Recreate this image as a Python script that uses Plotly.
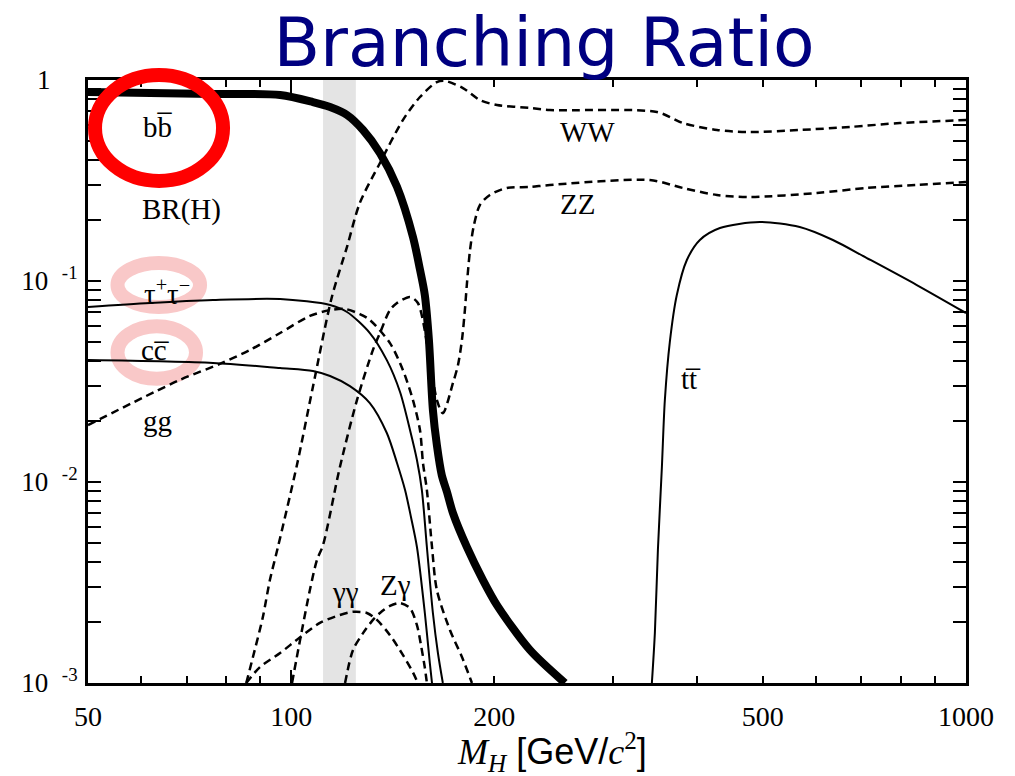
import numpy as np
import plotly.graph_objects as go

# Higgs boson branching ratios vs. mass M_H (GeV/c^2)
bb_mass = [50, 61.8, 76.6, 96.3, 107.7, 114.2, 121.0, 127.8, 135.4, 143.5, 151.5, 155.2,
           157.8, 160.0, 162.2, 164.4, 167.2, 170.2, 173.7, 182.1, 192.4, 201.8, 225.8, 254.5]
bb_br = [0.872, 0.862, 0.852, 0.842, 0.777, 0.734, 0.670, 0.564, 0.433, 0.294, 0.166, 0.114,
         0.085, 0.051, 0.0228, 0.0153, 0.0108, 0.0089, 0.0070, 0.00475, 0.00325, 0.00244, 0.00146, 0.001]

tau_mass = [50, 61.8, 76.6, 96.3, 114.2, 121.0, 130.8, 138.6, 145.0, 150.0, 153.6, 156.2,
            158.9, 162.2, 165.0, 167.8]
tau_br = [0.0742, 0.0777, 0.0804, 0.0813, 0.076, 0.0701, 0.0551, 0.0404, 0.02804, 0.01815,
          0.01287, 0.00912, 0.00475, 0.00223, 0.00141, 0.001]

cc_mass = [50, 76.6, 96.3, 107.7, 114.2, 122.2, 130.8, 138.6, 143.5, 147.5, 150.5, 153.6,
           157.8, 160.5, 161.7]
cc_br = [0.0404, 0.0391, 0.0369, 0.0357, 0.0337, 0.030, 0.0247, 0.01753, 0.01243, 0.00912,
         0.0067, 0.00475, 0.00223, 0.00126, 0.001]

gg_mass = [50, 68.4, 78.4, 86.9, 96.3, 106.6, 114.2, 120.2, 126.4, 130.8, 140.1, 146.4,
           151.5, 155.2, 156.8, 158.9, 161.7, 164.4, 171.9, 179.1, 185.3]
gg_br = [0.0192, 0.0322, 0.0387, 0.0454, 0.0551, 0.067, 0.0717, 0.0726, 0.0685, 0.064,
         0.0491, 0.0361, 0.0256, 0.01815, 0.01243, 0.00912, 0.00475, 0.0029, 0.001835,
         0.001347, 0.001]

ww_mass = [85.8, 87.8, 90.8, 93.0, 95.6, 102.0, 107.7, 114.9, 121.0, 126.4, 135.4, 146.4,
           155.2, 164.4, 169.0, 179.7, 190.4, 201.8, 225.8, 241.7, 348.3, 380.5, 427.5,
           478.3, 567.0, 673.0, 798.0, 1000]
ww_br = [0.001, 0.00135, 0.00213, 0.00325, 0.00475, 0.01215, 0.0297, 0.0833, 0.148, 0.2445,
         0.3865, 0.632, 0.823, 0.977, 0.99, 0.912, 0.795, 0.751, 0.726, 0.709, 0.693, 0.611,
         0.564, 0.551, 0.564, 0.584, 0.611, 0.632]

zz_mass = [100.3, 103.1, 106.6, 109.2, 111.5, 118.1, 125.2, 132.2, 135.4, 140.1, 143.5,
           150.0, 154.1, 160.5, 164.4, 167.8, 173.7, 176.7, 179.1, 180.9, 182.1, 184.1,
           186.6, 190.4, 197.0, 208.8, 225.8, 241.7, 340.0, 380.5, 427.5, 478.3, 601.2,
           713.0, 845.5, 1000]
zz_br = [0.001, 0.00164, 0.0029, 0.00409, 0.00486, 0.01188, 0.0256, 0.0454, 0.0551, 0.0717,
         0.0777, 0.0833, 0.0777, 0.0404, 0.0256, 0.022, 0.0311, 0.0382, 0.0509, 0.0717,
         0.0955, 0.1426, 0.19, 0.2388, 0.2679, 0.2903, 0.2936, 0.3003, 0.318, 0.2903,
         0.2679, 0.2618, 0.274, 0.2903, 0.3003, 0.3109]

gamgam_mass = [85.8, 89.9, 96.3, 103.1, 110.3, 118.1, 123.5, 129.5, 134.0, 140.1, 146.4,
               151.5, 154.1]
gamgam_br = [0.001, 0.0012, 0.00141, 0.00169, 0.00199, 0.00218, 0.00226, 0.00223, 0.00206,
             0.00173, 0.00138, 0.00113, 0.001]

zgam_mass = [120.2, 123.5, 127.8, 132.2, 135.4, 140.1, 145.0, 150.0, 153.6, 155.7, 157.8, 158.9]
zgam_br = [0.001, 0.00146, 0.00177, 0.00206, 0.00223, 0.00242, 0.0025, 0.00236, 0.00194,
           0.00155, 0.00119, 0.001]

tt_mass = [342.4, 345.9, 349.5, 354.3, 357.9, 364.0, 372.8, 385.8, 403.3, 431.9, 494.9,
           567.0, 635.0, 713.0, 845.5, 1000]
tt_br = [0.001, 0.00177, 0.00459, 0.01188, 0.0256, 0.0497, 0.0852, 0.1272, 0.16, 0.1835,
         0.1966, 0.1856, 0.16, 0.1301, 0.0955, 0.0693]

# shaded mass window
band_low, band_high = 111.5, 124.7

# axis ticks
x_tick_vals = [50, 100, 200, 500, 1000]
x_tick_text = ["50", "100", "200", "500", "1000"]
x_decades = [100, 1000]
x_minor = [60, 70, 80, 90, 300, 400, 600, 700, 800, 900]
y_tick_vals = [0.001, 0.01, 0.1, 1]
y_tick_text = ["10\u00a0\u00a0<sup>-3</sup>", "10\u00a0\u00a0<sup>-2</sup>",
               "10\u00a0\u00a0<sup>-1</sup>", "1\u00a0\u00a0\u00a0\u00a0"]
y_minor = [m * d for d in (0.001, 0.01, 0.1) for m in range(2, 10)]

# channel labels: (text, mass, BR)
labels = [
    ("bb\u0305", 63.3, 0.584),
    ("BR(H)", 68.9, 0.228),
    ("\u03c4<sup>+</sup>\u03c4<sup>\u2212</sup>", 65.5, 0.0882),
    ("cc\u0305", 62.9, 0.0454),
    ("gg", 63.3, 0.0201),
    ("WW", 275.3, 0.551),
    ("ZZ", 266.0, 0.2416),
    ("tt\u0305", 391.2, 0.0325),
    ("\u03b3\u03b3", 120.2, 0.00284),
    ("Z\u03b3", 142.9, 0.00307),
]

SERIF = "Liberation Serif, Times New Roman, serif"
DASH = "8px,5px"

fig = go.Figure()

dashed = [(gg_mass, gg_br), (ww_mass, ww_br), (zz_mass, zz_br),
          (gamgam_mass, gamgam_br), (zgam_mass, zgam_br)]
for m, br in dashed:
    fig.add_trace(go.Scatter(x=m, y=br, mode="lines",
                             line=dict(color="black", width=2.5, dash=DASH,
                                       shape="spline", smoothing=0.8),
                             showlegend=False, hoverinfo="skip"))

for m, br in [(tau_mass, tau_br), (cc_mass, cc_br), (tt_mass, tt_br)]:
    fig.add_trace(go.Scatter(x=m, y=br, mode="lines",
                             line=dict(color="black", width=2, shape="spline", smoothing=0.8),
                             showlegend=False, hoverinfo="skip"))

fig.add_trace(go.Scatter(x=bb_mass, y=bb_br, mode="lines",
                         line=dict(color="black", width=8, shape="spline", smoothing=0.8),
                         showlegend=False, hoverinfo="skip"))

# helper trace for the overlaid axis carrying the long decade ticks
fig.add_trace(go.Scatter(x=[None], y=[None], xaxis="x2", showlegend=False, hoverinfo="skip"))

fig.add_vrect(x0=band_low, x1=band_high, fillcolor="#e4e4e4", line_width=0, layer="below")

# highlight rings
fig.add_shape(type="circle", xref="paper", yref="paper",
              x0=0.0336, x1=0.1276, y0=0.6235, y1=0.6965,
              line=dict(color="#f9c8c8", width=14), layer="below")
fig.add_shape(type="circle", xref="paper", yref="paper",
              x0=0.0336, x1=0.1230, y0=0.5045, y1=0.5915,
              line=dict(color="#f9c8c8", width=14), layer="below")
fig.add_shape(type="circle", xref="paper", yref="paper",
              x0=0.0080, x1=0.1538, y0=0.8325, y1=1.0083,
              line=dict(color="#ff0000", width=14), layer="above")

for text, m, br in labels:
    fig.add_annotation(x=np.log10(m), y=np.log10(br), text=text, showarrow=False,
                       xanchor="center", yanchor="middle",
                       font=dict(family=SERIF, size=29, color="black"))

fig.add_annotation(
    xref="paper", yref="paper", x=0.528, y=-0.114, showarrow=False,
    xanchor="center", yanchor="middle",
    text=("<span style='font-family:Liberation Serif'><i>M</i><sub><i>H</i></sub></span>"
          " [GeV/<span style='font-family:Liberation Serif'><i>c</i><sup>2</sup></span>]"),
    font=dict(family="Liberation Sans, Arial, sans-serif", size=36, color="black"))

axis_common = dict(showgrid=False, zeroline=False, color="black")

fig.update_layout(
    width=1015, height=776,
    margin=dict(l=88, r=49, t=80, b=93),
    paper_bgcolor="white", plot_bgcolor="white",
    title=dict(text="Branching Ratio", x=0.536, xref="container", xanchor="center",
               y=0.945, yref="container", yanchor="middle",
               font=dict(family="DejaVu Sans", size=68, color="#000080")),
    xaxis=dict(type="log", range=[np.log10(50), np.log10(1000)],
               tickvals=x_tick_vals, ticktext=x_tick_text,
               ticks="inside", ticklen=7, tickwidth=2, tickcolor="black",
               showline=True, linewidth=3, linecolor="black", mirror="allticks",
               tickfont=dict(family=SERIF, size=28, color="black"),
               ticklabelstandoff=6,
               minor=dict(tickvals=x_minor, ticks="inside", ticklen=7, tickwidth=2,
                          tickcolor="black", showgrid=False),
               **axis_common),
    xaxis2=dict(type="log", range=[np.log10(50), np.log10(1000)], overlaying="x",
                anchor="y", side="bottom", tickvals=x_decades, ticks="inside",
                ticklen=13, tickwidth=2, tickcolor="black", showticklabels=False,
                showline=False, mirror="ticks", **axis_common),
    yaxis=dict(type="log", range=[-3, 0],
               tickvals=y_tick_vals, ticktext=y_tick_text,
               ticks="inside", ticklen=13, tickwidth=2, tickcolor="black",
               showline=True, linewidth=3, linecolor="black", mirror="allticks",
               tickfont=dict(family=SERIF, size=27, color="black"),
               ticklabelstandoff=2,
               minor=dict(tickvals=y_minor, ticks="inside", ticklen=7, tickwidth=2,
                          tickcolor="black", showgrid=False),
               **axis_common),
)

fig.write_html("out.html")
